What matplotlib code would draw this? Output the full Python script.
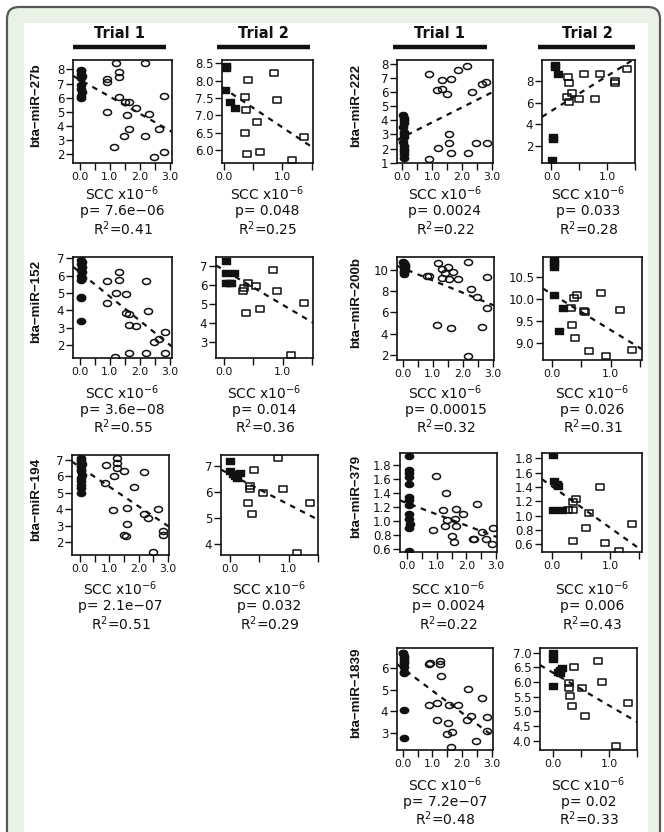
import matplotlib
matplotlib.use("Agg")
import matplotlib.pyplot as plt
from matplotlib.patches import FancyBboxPatch, Rectangle
from matplotlib.path import Path
from matplotlib.transforms import Affine2D

W, H = 664, 832

# ---- data (SCC x10^-6 vs expression) ----
genes = ["bta−miR−27b", "bta−miR−152", "bta−miR−194",
         "bta−miR−222", "bta−miR−200b", "bta−miR−379", "bta−miR−1839"]

# miR-27b
x27b_t1_fill = [0.02, 0.05, 0.03, 0.06, 0.04, 0.05, 0.03, 0.06, 0.04, 0.05]
y27b_t1_fill = [7.95, 7.85, 7.7, 7.55, 7.4, 6.9, 6.6, 6.4, 6.15, 6.0]
x27b_t1_open = [0.89, 0.89, 1.19, 1.30, 1.30, 0.89, 1.31, 1.50, 1.63, 1.56, 1.87,
                2.17, 2.31, 1.62, 1.47, 1.14, 2.17, 2.64, 2.81, 2.48, 2.80]
y27b_t1_open = [7.30, 7.10, 8.47, 7.84, 7.44, 5.00, 6.07, 5.72, 5.72, 4.78, 5.25,
                8.47, 4.85, 3.76, 3.29, 2.54, 3.29, 3.76, 6.12, 1.84, 2.19]
x27b_t2_fill = [0.03, 0.03, 0.02, 0.11, 0.19]
y27b_t2_fill = [8.42, 8.36, 7.73, 7.39, 7.20]
x27b_t2_open = [0.36, 0.41, 0.85, 0.91, 0.375, 0.56, 0.36, 0.39, 0.625, 1.16, 1.36]
y27b_t2_open = [7.52, 8.02, 8.23, 7.44, 7.15, 6.82, 6.48, 5.88, 5.95, 5.71, 6.38]

# miR-222
x222_t1_fill = [0.03, 0.06, 0.04, 0.07, 0.03, 0.06, 0.04, 0.07, 0.03, 0.06, 0.04, 0.07, 0.05, 0.05]
y222_t1_fill = [4.4, 4.2, 4.0, 3.8, 3.5, 3.2, 3.0, 2.8, 2.5, 2.2, 2.0, 1.8, 1.6, 1.3]
x222_t1_open = [0.90, 1.32, 1.63, 1.15, 1.34, 1.49, 1.86, 2.16, 2.32, 2.67, 2.81,
                1.57, 1.55, 1.18, 1.62, 2.19, 2.47, 2.83, 0.88]
y222_t1_open = [7.30, 6.87, 6.94, 6.12, 6.20, 5.89, 7.58, 7.88, 5.98, 6.59, 6.69,
                3.05, 2.37, 2.06, 1.66, 1.71, 2.41, 2.41, 1.24]
x222_t2_fill = [0.06, 0.06, 0.12, 0.02, 0.02, 0.01]
y222_t2_fill = [9.44, 9.25, 8.61, 2.86, 2.62, 0.72]
x222_t2_open = [0.29, 0.31, 0.59, 0.88, 1.14, 1.14, 1.35, 0.28, 0.37, 0.31, 0.50, 0.79]
y222_t2_open = [8.30, 7.76, 8.61, 8.61, 7.95, 7.80, 9.04, 6.47, 6.90, 6.07, 6.29, 6.32]

# miR-152
x152_t1_fill = [0.03, 0.06, 0.04, 0.07, 0.03, 0.06, 0.04, 0.07, 0.05, 0.05, 0.03, 0.03]
y152_t1_fill = [6.9, 6.8, 6.65, 6.5, 6.35, 6.2, 6.0, 5.85, 5.75, 4.8, 4.7, 3.4]
x152_t1_open = [1.31, 1.31, 0.89, 2.20, 1.19, 1.53, 0.89, 1.55, 1.63, 2.28, 1.63,
                1.87, 2.47, 2.64, 2.83, 1.17, 1.63, 2.20, 2.83]
y152_t1_open = [6.20, 5.75, 5.71, 5.71, 4.99, 4.95, 4.41, 3.87, 3.80, 3.99, 3.17,
                3.09, 2.21, 2.34, 2.78, 1.35, 1.54, 1.54, 1.54]
x152_t2_fill = [0.03, 0.03, 0.17, 0.03, 0.12, 0.08]
y152_t2_fill = [7.28, 6.61, 6.65, 6.08, 6.08, 6.10]
x152_t2_open = [0.32, 0.34, 0.41, 0.55, 0.83, 0.91, 0.37, 0.61, 1.36, 1.14]
y152_t2_open = [5.68, 5.82, 6.12, 5.95, 6.77, 5.68, 4.52, 4.72, 5.05, 2.30]

# miR-200b
x200b_t1_fill = [0.02, 0.05, 0.03, 0.06, 0.04, 0.07, 0.03, 0.06, 0.04, 0.05, 0.03]
y200b_t1_fill = [10.8, 10.7, 10.6, 10.5, 10.4, 10.3, 10.2, 10.0, 9.9, 9.8, 9.6]
x200b_t1_open = [0.89, 0.82, 1.17, 1.30, 1.52, 1.67, 1.41, 1.30, 1.55, 1.85, 2.17,
                 2.80, 2.28, 2.49, 2.80, 1.13, 1.61, 2.63, 2.17]
y200b_t1_open = [9.43, 9.43, 10.69, 10.09, 10.25, 9.84, 9.75, 9.21, 9.12, 9.12, 10.78,
                 9.31, 8.18, 7.48, 6.39, 4.81, 4.50, 4.58, 1.89]
x200b_t2_fill = [0.03, 0.03, 0.03, 0.04, 0.19, 0.12]
y200b_t2_fill = [10.90, 10.82, 10.74, 10.10, 9.80, 9.28]
x200b_t2_open = [0.38, 0.43, 0.33, 0.55, 0.57, 0.83, 1.15, 0.35, 0.39, 0.63, 0.92, 1.36]
y200b_t2_open = [10.02, 10.09, 9.81, 9.74, 9.70, 10.14, 9.76, 9.42, 9.11, 8.83, 8.71, 8.85]

# miR-194
x194_t1_fill = [0.02, 0.05, 0.03, 0.06, 0.04, 0.05, 0.03, 0.06, 0.04, 0.05, 0.03, 0.04, 0.04]
y194_t1_fill = [7.1, 7.0, 6.9, 6.75, 6.6, 6.45, 6.3, 6.1, 5.9, 5.7, 5.5, 5.3, 5.0]
x194_t1_open = [0.88, 1.27, 1.27, 1.27, 1.50, 1.16, 2.18, 1.85, 0.85, 1.13, 1.59,
                1.59, 1.50, 1.57, 2.18, 2.30, 2.66, 2.81, 2.81, 2.47]
y194_t1_open = [6.70, 7.14, 6.81, 6.50, 6.35, 6.00, 6.24, 5.38, 5.60, 3.98, 4.08,
                3.07, 2.40, 2.35, 3.72, 3.46, 4.04, 2.68, 2.42, 1.38]
x194_t2_fill = [0.00, 0.00, 0.05, 0.09, 0.12, 0.17]
y194_t2_fill = [7.20, 6.82, 6.69, 6.61, 6.52, 6.72]
x194_t2_open = [0.41, 0.82, 0.35, 0.35, 0.56, 0.91, 0.31, 0.37, 1.36, 1.14]
y194_t2_open = [6.85, 7.32, 6.23, 6.11, 5.95, 6.10, 5.56, 5.15, 5.58, 3.65]

# miR-379
x379_t1_fill = [0.07, 0.07, 0.07, 0.07, 0.05, 0.07, 0.07, 0.07, 0.07, 0.07, 0.08, 0.07, 0.07]
y379_t1_fill = [1.93, 1.73, 1.68, 1.63, 1.53, 1.34, 1.29, 1.22, 1.10, 1.03, 0.95, 0.90, 0.57]
x379_t1_open = [0.97, 1.31, 0.88, 1.20, 1.28, 1.36, 1.62, 1.65, 1.88, 1.65, 1.50,
                1.58, 2.22, 2.35, 2.52, 2.67, 2.89, 2.86, 2.25]
y379_t1_open = [1.64, 1.40, 0.86, 1.15, 0.93, 1.01, 1.03, 1.17, 1.09, 0.93, 0.78,
                0.69, 0.74, 1.24, 0.83, 0.74, 0.90, 0.67, 0.74]
x379_t2_fill = [0.02, 0.04, 0.08, 0.11, 0.02, 0.17]
y379_t2_fill = [1.85, 1.48, 1.44, 1.41, 1.08, 1.08]
x379_t2_open = [0.83, 0.27, 0.37, 0.36, 0.63, 0.58, 0.36, 0.91, 1.16, 1.37, 0.42]
y379_t2_open = [1.40, 1.08, 1.08, 1.19, 1.03, 0.83, 0.65, 0.61, 0.51, 0.88, 1.23]

# miR-1839
x1839_t1_fill = [0.02, 0.05, 0.03, 0.06, 0.04, 0.05, 0.03, 0.06, 0.04, 0.04]
y1839_t1_fill = [6.70, 6.57, 6.47, 6.36, 6.23, 6.08, 5.84, 5.77, 4.06, 2.74]
x1839_t1_open = [0.00, 0.87, 0.92, 1.26, 1.26, 1.29, 0.90, 1.17, 1.57, 1.85, 2.19,
                 2.66, 1.15, 1.54, 1.48, 1.65, 1.63, 2.16, 2.29, 2.83, 2.83, 2.46]
y1839_t1_open = [6.70, 6.20, 6.23, 6.36, 6.20, 5.64, 4.29, 4.40, 4.29, 4.29, 5.02,
                 4.60, 3.59, 3.47, 2.94, 3.05, 2.35, 3.59, 3.78, 3.72, 3.10, 2.63]
x1839_t2_fill = [0.00, 0.00, 0.00, 0.09, 0.13, 0.17, 0.12]
y1839_t2_fill = [7.00, 6.77, 5.86, 6.35, 6.41, 6.47, 6.30]
x1839_t2_open = [0.38, 0.80, 0.88, 0.28, 0.29, 0.30, 0.34, 0.52, 0.58, 1.34, 1.13]
y1839_t2_open = [6.50, 6.73, 6.01, 5.95, 5.78, 5.52, 5.18, 5.78, 4.84, 5.30, 3.80]

# regression lines (intercept, slope) and stats, in panel order below
fit_b0 = [7.27, 7.78, 2.80, 5.23, 6.19, 6.78, 10.18, 10.12, 6.57, 6.68, 1.25, 1.41, 6.00, 6.32]
fit_b1 = [-1.20, -1.13, 1.06, 3.20, -1.39, -1.83, -1.16, -0.82, -1.20, -1.17, -0.16, -0.58, -1.04, -1.12]
p_vals = ["7.6e−06", "0.048", "0.0024", "0.033", "3.6e−08", "0.014", "0.00015",
          "0.026", "2.1e−07", "0.032", "0.0024", "0.006", "7.2e−07", "0.02"]
r2_vals = ["0.41", "0.25", "0.22", "0.28", "0.55", "0.36", "0.32",
           "0.31", "0.51", "0.29", "0.22", "0.43", "0.48", "0.33"]

# ---- layout (pixels) ----
# gene idx, trial, box (l, t, r, b), xlim, ylim, yticks, y format, text row
panels = [
    (0, 1, (73, 60, 172, 163), (-0.23, 3.07), (1.39, 8.66), [2, 3, 4, 5, 6, 7, 8], "{:.0f}", 0,
     x27b_t1_fill, y27b_t1_fill, x27b_t1_open, y27b_t1_open),
    (0, 2, (222, 60, 313, 163), (-0.03, 1.52), (5.62, 8.60), [6.0, 6.5, 7.0, 7.5, 8.0, 8.5], "{:.1f}", 0,
     x27b_t2_fill, y27b_t2_fill, x27b_t2_open, y27b_t2_open),
    (3, 1, (397, 60, 493, 163), (-0.18, 3.04), (0.98, 8.28), [1, 2, 3, 4, 5, 6, 7, 8], "{:.0f}", 0,
     x222_t1_fill, y222_t1_fill, x222_t1_open, y222_t1_open),
    (3, 2, (542, 60, 635, 163), (-0.17, 1.47), (0.45, 9.90), [2, 4, 6, 8], "{:.0f}", 0,
     x222_t2_fill, y222_t2_fill, x222_t2_open, y222_t2_open),
    (1, 1, (73, 257, 172, 358), (-0.23, 3.07), (1.27, 7.07), [2, 3, 4, 5, 6, 7], "{:.0f}", 1,
     x152_t1_fill, y152_t1_fill, x152_t1_open, y152_t1_open),
    (1, 2, (216, 257, 313, 358), (-0.14, 1.52), (2.13, 7.48), [3, 4, 5, 6, 7], "{:.0f}", 1,
     x152_t2_fill, y152_t2_fill, x152_t2_open, y152_t2_open),
    (4, 1, (397, 257, 494, 360), (-0.19, 3.04), (1.51, 11.23), [2, 4, 6, 8, 10], "{:.0f}", 1,
     x200b_t1_fill, y200b_t1_fill, x200b_t1_open, y200b_t1_open),
    (4, 2, (543, 257, 642, 360), (-0.15, 1.53), (8.62, 10.96), [9.0, 9.5, 10.0, 10.5], "{:.1f}", 1,
     x200b_t2_fill, y200b_t2_fill, x200b_t2_open, y200b_t2_open),
    (2, 1, (72, 455, 169, 555), (-0.27, 3.03), (1.21, 7.30), [2, 3, 4, 5, 6, 7], "{:.0f}", 2,
     x194_t1_fill, y194_t1_fill, x194_t1_open, y194_t1_open),
    (2, 2, (221, 455, 318, 555), (-0.15, 1.50), (3.56, 7.42), [4, 5, 6, 7], "{:.0f}", 2,
     x194_t2_fill, y194_t2_fill, x194_t2_open, y194_t2_open),
    (5, 1, (400, 453, 497, 552), (-0.25, 3.04), (0.55, 1.97), [0.6, 0.8, 1.0, 1.2, 1.4, 1.6, 1.8], "{:.1f}", 2,
     x379_t1_fill, y379_t1_fill, x379_t1_open, y379_t1_open),
    (5, 2, (542, 453, 642, 552), (-0.17, 1.55), (0.49, 1.875), [0.6, 0.8, 1.0, 1.2, 1.4, 1.6, 1.8], "{:.1f}", 2,
     x379_t2_fill, y379_t2_fill, x379_t2_open, y379_t2_open),
    (6, 1, (397, 648, 493, 750), (-0.19, 3.04), (2.19, 6.95), [3, 4, 5, 6], "{:.0f}", 3,
     x1839_t1_fill, y1839_t1_fill, x1839_t1_open, y1839_t1_open),
    (6, 2, (540, 648, 637, 750), (-0.23, 1.45), (3.68, 7.16), [4.0, 4.5, 5.0, 5.5, 6.0, 6.5, 7.0], "{:.1f}", 3,
     x1839_t2_fill, y1839_t2_fill, x1839_t2_open, y1839_t2_open),
]
text_rows = {0: (194, 211, 229), 1: (393, 410, 427), 2: (589, 606, 624), 3: (785, 802, 819)}

# R output looks horizontally stretched: use wide markers
circ = Path.unit_circle().transformed(Affine2D().scale(1.35, 1.0))
sq = Path([(-1.3, -1), (1.3, -1), (1.3, 1), (-1.3, 1), (-1.3, -1)], closed=True)

ink = "#111111"
fig = plt.figure(figsize=(W / 100, H / 100), dpi=100)

# background frame
bg = fig.add_axes([0, 0, 1, 1])
bg.set_xlim(0, W)
bg.set_ylim(H, 0)
bg.axis("off")
bg.add_patch(FancyBboxPatch((7, 7), 653, 900, boxstyle="round,pad=0,rounding_size=12",
                            fc="#e9f2e5", ec="#585858", lw=1.6))
bg.add_patch(Rectangle((24, 23), 624, 900, fc="white", ec="none"))

# Trial headers
for cx, x0, x1, lab in [(119, 73, 166, "Trial 1"), (263, 217, 310, "Trial 2"),
                        (440, 393, 487, "Trial 1"), (587, 538, 635, "Trial 2")]:
    bg.text(cx, 34, lab, ha="center", va="center", fontsize=10.5, fontweight="bold", color=ink)
    bg.plot([x0, x1], [47, 47], color=ink, lw=3.2, solid_capstyle="butt")

for i, (g, trial, box, xl, yl, yt, yf, row, fx, fy, ox, oy) in enumerate(panels):
    l, t, r, b = box
    ax = fig.add_axes([l / W, 1 - b / H, (r - l) / W, (b - t) / H])
    mk = circ if trial == 1 else sq
    ax.plot(ox, oy, ls="none", marker=mk, ms=5.8 if trial == 1 else 5.4,
            mfc="none", mec=ink, mew=1.1)
    ax.plot(fx, fy, ls="none", marker=mk, ms=6.0 if trial == 1 else 5.4,
            mfc=ink, mec=ink, mew=1.0)
    ax.axline((0, fit_b0[i]), slope=fit_b1[i], color=ink, lw=1.6, ls=(0, (2.5, 2.5)))
    ax.set_xlim(*xl)
    ax.set_ylim(*yl)
    if trial == 1:
        ax.set_xticks([0, 0.5, 1, 1.5, 2, 2.5, 3])
        ax.set_xticklabels(["0.0", "", "1.0", "", "2.0", "", "3.0"])
    else:
        ax.set_xticks([0, 0.5, 1, 1.5])
        ax.set_xticklabels(["0.0", "", "1.0", ""])
    ax.set_yticks(yt)
    ax.set_yticklabels([yf.format(v) for v in yt])
    ax.tick_params(direction="out", length=4.8, width=1.0, pad=1.5, colors=ink)
    ax.tick_params(axis="x", labelsize=7.8)
    ax.tick_params(axis="y", labelsize=8.5)
    for s in ax.spines.values():
        s.set_linewidth(1.2)
        s.set_color(ink)

    cx = (l + r) / 2
    ys = text_rows[row]
    bg.text(cx, ys[0], "SCC x10$^{-6}$", ha="center", va="center", fontsize=10, color=ink)
    bg.text(cx, ys[1], "p= " + p_vals[i], ha="center", va="center", fontsize=10, color=ink)
    bg.text(cx, ys[2], "R$^2$=" + r2_vals[i], ha="center", va="center", fontsize=10, color=ink)

    if trial == 1:
        lx = 36 if l < 300 else 356
        bg.text(lx, (t + b) / 2 - 6, genes[g], rotation=90, ha="center", va="center",
                fontsize=9.6, fontweight="bold", family=["Liberation Sans", "DejaVu Sans"],
                color=ink)

fig.savefig("out.png", dpi=100)
